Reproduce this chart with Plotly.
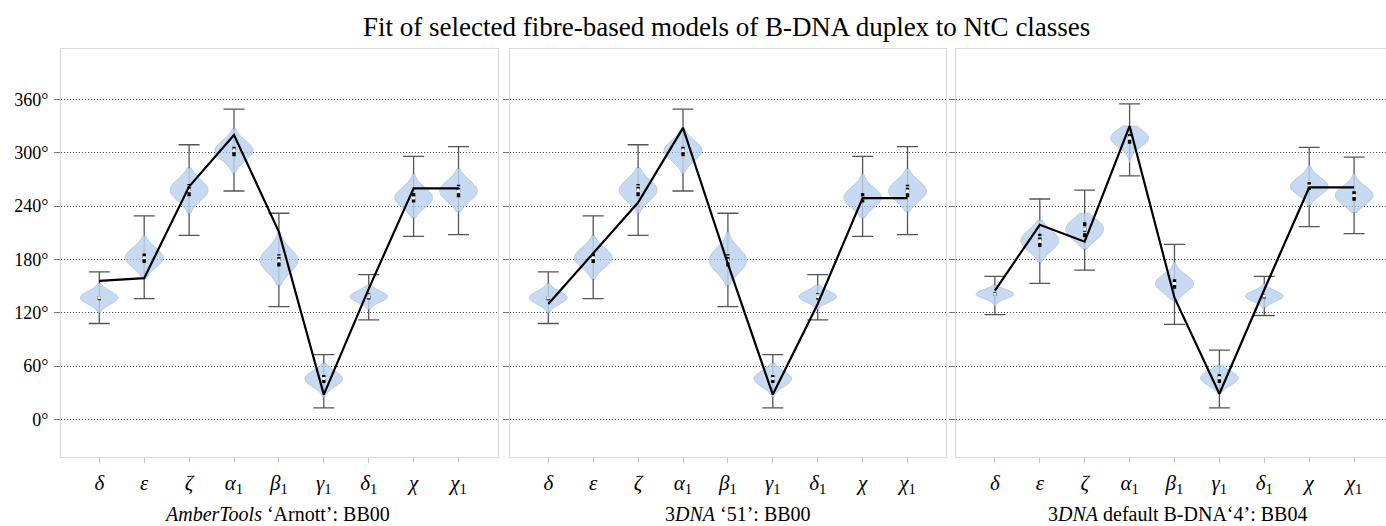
import plotly.graph_objects as go

# ---------------- data ----------------
categories = ["δ", "ε", "ζ", "α1", "β1", "γ1", "δ1", "χ", "χ1"]
tick_labels = ["<i>δ</i>", "<i>ε</i>", "<i>ζ</i>", "<i>α</i><sub>1</sub>", "<i>β</i><sub>1</sub>",
               "<i>γ</i><sub>1</sub>", "<i>δ</i><sub>1</sub>", "<i>χ</i>", "<i>χ</i><sub>1</sub>"]
y_ticks = [0, 60, 120, 180, 240, 300, 360]
y_tick_labels = ["0°", "60°", "120°", "180°", "240°", "300°", "360°"]

# NtC class BB00 torsion distributions (degrees)
bb00_whisker_lo = [108, 136, 207, 257, 127, 13, 112, 206, 208]
bb00_whisker_hi = [166, 229, 309, 349, 232, 73, 163, 296, 307]
bb00_span_lo = [120, 158, 232, 277, 151, 25, 124, 227, 234]
bb00_span_hi = [153, 207, 283, 327, 211, 63, 151, 276, 282]
bb00_q1 = [134, 176, 251, 296, 172, 41, 135, 244, 250]
bb00_median = [137, 182, 258, 303, 179, 46, 138, 249, 257]
bb00_q3 = [140, 188, 265, 308, 186, 50, 142, 256, 264]

# NtC class BB04 torsion distributions (degrees)
bb04_whisker_lo = [118, 153, 168, 274, 107, 13, 117, 217, 209]
bb04_whisker_hi = [161, 248, 258, 355, 197, 78, 161, 306, 295]
bb04_span_lo = [128, 177, 192, 289, 134, 29, 126, 241, 233]
bb04_span_hi = [151, 224, 232, 330, 177, 61, 153, 286, 276]
bb04_q1 = [139, 194, 205, 310, 147, 41, 136, 258, 246]
bb04_median = [141, 201, 214, 317, 153, 47, 139, 262, 252]
bb04_q3 = [143, 209, 222, 322, 158, 51, 141, 267, 258]

# fibre model torsions (degrees)
model_ambertools_arnott = [156, 159, 262, 320, 211, 28, 147, 260, 260]
model_3dna_51 = [130, 187, 244, 328, 175, 28, 130, 249, 249]
model_3dna_bdna4 = [145, 219, 200, 330, 137, 29, 146, 261, 261]

panel_titles = ["<i>AmberTools</i> ‘Arnott’: BB00",
                "3<i>DNA</i> ‘51’: BB00",
                "3<i>DNA</i> default B-DNA‘4’: BB04"]
main_title = "Fit of selected fibre-based models of B-DNA duplex to NtC classes"

bb00 = dict(wlo=bb00_whisker_lo, whi=bb00_whisker_hi, slo=bb00_span_lo, shi=bb00_span_hi,
            q1=bb00_q1, med=bb00_median, q3=bb00_q3)
bb04 = dict(wlo=bb04_whisker_lo, whi=bb04_whisker_hi, slo=bb04_span_lo, shi=bb04_span_hi,
            q1=bb04_q1, med=bb04_median, q3=bb04_q3)
panels = [(bb00, model_ambertools_arnott), (bb00, model_3dna_51), (bb04, model_3dna_bdna4)]

# ---------------- layout constants ----------------
W, H = 1386, 526
FONT = "Liberation Serif"
panel_px = [(61, 498.3), (510, 945.7), (956, 1386)]
panel_left_unit = [-0.853, -0.853, -0.866]
unit_px = 44.9
y_top_px, y_bot_px = 49, 457.3
y_range = [-42.5, 416.7]
subtitle_x_px = [277, 738, 1177]

VIOLIN_FILL = "rgba(172,201,236,0.68)"
VIOLIN_LINE = "#a9c2e2"
BOX_LINE = "#d9d9d9"

fig = go.Figure()
pos = list(range(len(categories)))

for p, (st, model) in enumerate(panels):
    xa = "x" if p == 0 else f"x{p+1}"
    ya = "y" if p == 0 else f"y{p+1}"
    # violins
    for i in pos:
        samples = [st["q1"][i], st["med"][i], st["q3"][i]]
        bw = (st["shi"][i] - st["slo"][i]) / 5.0
        fig.add_trace(go.Violin(
            x0=i, y=samples, xaxis=xa, yaxis=ya, width=0.84,
            spanmode="manual", span=[st["slo"][i], st["shi"][i]], bandwidth=bw,
            fillcolor=VIOLIN_FILL, line=dict(color=VIOLIN_LINE, width=0.8),
            points=False, box_visible=False, meanline_visible=False,
            showlegend=False, hoverinfo="skip"))
    # whisker stems outside violin, faint inside
    sx, sy, ix, iy = [], [], [], []
    for i in pos:
        sx += [i, i, None, i, i, None]
        sy += [st["wlo"][i], st["slo"][i], None, st["shi"][i], st["whi"][i], None]
        ix += [i, i, None]
        iy += [st["slo"][i], st["shi"][i], None]
    fig.add_trace(go.Scatter(x=ix, y=iy, xaxis=xa, yaxis=ya, mode="lines",
                             line=dict(color="#a3b7d1", width=1), showlegend=False, hoverinfo="skip"))
    fig.add_trace(go.Scatter(x=sx, y=sy, xaxis=xa, yaxis=ya, mode="lines",
                             line=dict(color="#555555", width=1.3), showlegend=False, hoverinfo="skip"))
    fig.add_trace(go.Scatter(x=pos + pos, y=st["wlo"] + st["whi"], xaxis=xa, yaxis=ya, mode="markers",
                             marker=dict(symbol="line-ew", size=15, line=dict(color="#555555", width=1.3)),
                             showlegend=False, hoverinfo="skip"))
    # IQR bars
    qx, qy = [], []
    for i in pos:
        qx += [i, i, None]
        qy += [st["q1"][i], st["q3"][i], None]
    fig.add_trace(go.Scatter(x=qx, y=qy, xaxis=xa, yaxis=ya, mode="lines",
                             line=dict(color="black", width=3.4, dash="4px,1.5px"),
                             showlegend=False, hoverinfo="skip"))
    fig.add_trace(go.Scatter(x=pos, y=st["med"], xaxis=xa, yaxis=ya, mode="markers",
                             marker=dict(symbol="square", size=3, color="white", line=dict(width=0)),
                             showlegend=False, hoverinfo="skip"))
    # model line
    fig.add_trace(go.Scatter(x=pos, y=model, xaxis=xa, yaxis=ya, mode="lines",
                             line=dict(color="black", width=2.2), showlegend=False, hoverinfo="skip"))

# axes
for p in range(3):
    x0, x1 = panel_px[p]
    left = panel_left_unit[p]
    right = left + (x1 - x0) / unit_px
    xkey = "xaxis" if p == 0 else f"xaxis{p+1}"
    ykey = "yaxis" if p == 0 else f"yaxis{p+1}"
    yname = "y" if p == 0 else f"y{p+1}"
    xname = "x" if p == 0 else f"x{p+1}"
    fig.layout[xkey] = dict(
        domain=[x0 / W, min(x1 / W, 1.0)], range=[left, right], type="linear",
        anchor=yname, tickmode="array", tickvals=pos, ticktext=tick_labels,
        ticks="outside", ticklen=5, tickcolor="#c8c8c8", tickwidth=1,
        showline=True, linecolor=BOX_LINE, linewidth=1, mirror=True,
        showgrid=False, zeroline=False,
        tickfont=dict(family=FONT, size=21, color="black"), ticklabelstandoff=1)
    fig.layout[ykey] = dict(
        domain=[1 - y_bot_px / H, 1 - y_top_px / H], range=y_range, anchor=xname,
        tickmode="array", tickvals=y_ticks, ticktext=y_tick_labels,
        showticklabels=(p == 0), ticks="outside", ticklen=6, tickcolor="#777777",
        showline=True, linecolor=BOX_LINE, linewidth=1, mirror=(p < 2),
        showgrid=True, gridcolor="#444444", gridwidth=1, griddash="1px,2px",
        zeroline=False, tickfont=dict(family=FONT, size=18, color="black"),
        ticklabelstandoff=2)

annotations = [dict(text=main_title, x=726 / W, y=1 - 27 / H, xref="paper", yref="paper",
                    xanchor="center", yanchor="middle", showarrow=False,
                    font=dict(family=FONT, size=27, color="black"))]
for p in range(3):
    annotations.append(dict(text=panel_titles[p], x=subtitle_x_px[p] / W, y=1 - 514 / H,
                            xref="paper", yref="paper", xanchor="center", yanchor="middle",
                            showarrow=False, font=dict(family=FONT, size=20, color="black")))

fig.update_layout(width=W, height=H, margin=dict(l=0, r=0, t=0, b=0),
                  paper_bgcolor="white", plot_bgcolor="white",
                  violinmode="overlay", showlegend=False, annotations=annotations)

fig.write_html("out.html", config={"displayModeBar": False},
               post_script="document.body.style.margin='0';document.body.style.overflow='hidden';")
